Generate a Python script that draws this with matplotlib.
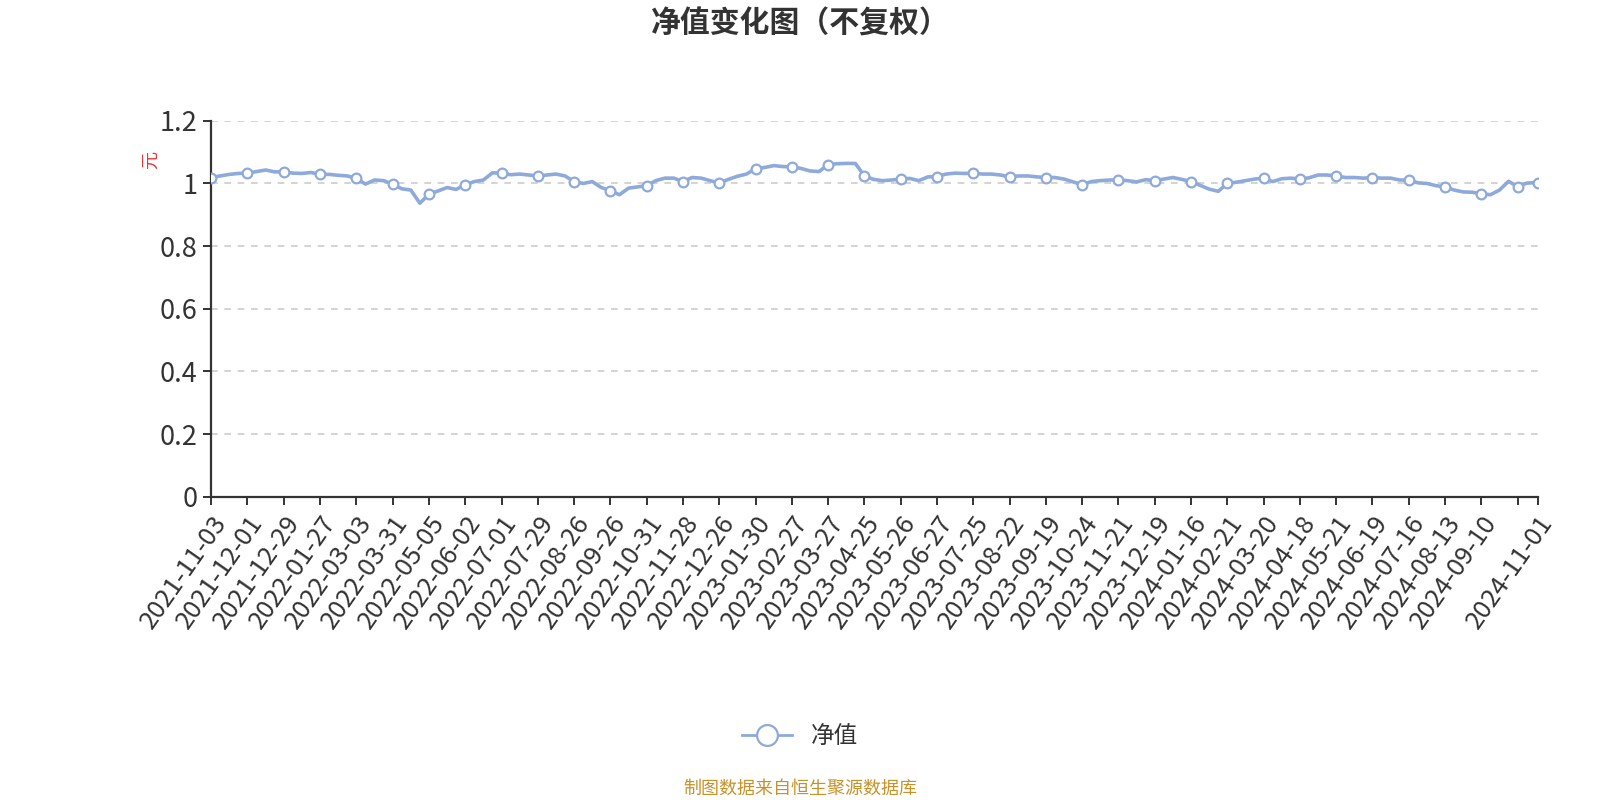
import matplotlib
matplotlib.use("Agg")
import matplotlib.pyplot as plt
from matplotlib.lines import Line2D
from matplotlib.ticker import FuncFormatter

plt.rcParams['font.family'] = ['Noto Sans CJK SC', 'DejaVu Sans']

# 净值 (每5个交易日读一次, 最后一天单独)
last_day = 731
day_idx = list(range(0, 731, 5)) + [last_day]
nav = [
    1.019, 1.024, 1.029, 1.032, 1.033, 1.038, 1.043, 1.037, 1.037, 1.033,
    1.032, 1.035, 1.029, 1.029, 1.026, 1.024, 1.016, 0.998, 1.011, 1.009,
    0.998, 0.983, 0.979, 0.937, 0.966, 0.976, 0.987, 0.981, 0.996, 1.006,
    1.011, 1.034, 1.033, 1.028, 1.030, 1.027, 1.024, 1.027, 1.030, 1.024,
    1.006, 1.000, 1.006, 0.987, 0.977, 0.964, 0.985, 0.989, 0.993, 1.009,
    1.017, 1.017, 1.006, 1.019, 1.017, 1.009, 1.001, 1.013, 1.023, 1.030,
    1.047, 1.051, 1.057, 1.054, 1.053, 1.048, 1.040, 1.038, 1.060, 1.063,
    1.064, 1.064, 1.024, 1.013, 1.009, 1.011, 1.014, 1.016, 1.009, 1.021,
    1.022, 1.030, 1.033, 1.032, 1.033, 1.030, 1.030, 1.027, 1.021, 1.024,
    1.024, 1.021, 1.019, 1.019, 1.014, 1.005, 0.996, 1.006, 1.009, 1.011,
    1.011, 1.009, 1.005, 1.012, 1.009, 1.014, 1.019, 1.013, 1.006, 0.994,
    0.982, 0.975, 1.000, 1.004, 1.009, 1.014, 1.017, 1.006, 1.015, 1.017,
    1.014, 1.018, 1.027, 1.027, 1.024, 1.019, 1.019, 1.017, 1.019, 1.017,
    1.017, 1.011, 1.011, 1.002, 1.000, 0.993, 0.989, 0.979, 0.973, 0.972,
    0.967, 0.964, 0.979, 1.007, 0.990, 1.001, 1.003, 1.001,
]

tick_dates = [
    "2021-11-03", "2021-12-01", "2021-12-29", "2022-01-27", "2022-03-03",
    "2022-03-31", "2022-05-05", "2022-06-02", "2022-07-01", "2022-07-29",
    "2022-08-26", "2022-09-26", "2022-10-31", "2022-11-28", "2022-12-26",
    "2023-01-30", "2023-02-27", "2023-03-27", "2023-04-25", "2023-05-26",
    "2023-06-27", "2023-07-25", "2023-08-22", "2023-09-19", "2023-10-24",
    "2023-11-21", "2023-12-19", "2024-01-16", "2024-02-21", "2024-03-20",
    "2024-04-18", "2024-05-21", "2024-06-19", "2024-07-16", "2024-08-13",
    "2024-09-10",
]
last_date = "2024-11-01"

line_color = "#8eaadb"
text_color = "#333333"

fig = plt.figure(figsize=(16, 8), dpi=100)
ax = fig.add_axes([0.132, 0.379, 0.829, 0.470])

marks = [k for k, d in enumerate(day_idx) if d % 20 == 0 or d == last_day]
ax.plot(day_idx, nav, color=line_color, lw=2.6, marker='o', markevery=marks,
        markersize=7, markerfacecolor='white', markeredgecolor=line_color,
        markeredgewidth=1.6, solid_joinstyle='round', zorder=3)

ax.set_xlim(0, last_day)
ax.set_ylim(0, 1.2)
ax.set_yticks([0, 0.2, 0.4, 0.6, 0.8, 1.0, 1.2])
ax.yaxis.set_major_formatter(FuncFormatter(lambda v, p: "%g" % round(v, 2)))

tick_pos = list(range(0, 20 * len(tick_dates) + 1, 20)) + [last_day]
tick_lab = tick_dates + [""] + [last_date]
ax.set_xticks(tick_pos)
ax.set_xticklabels(tick_lab, rotation=55, ha='right', va='top',
                   rotation_mode='anchor')

ax.grid(axis='y', linestyle=(0, (4, 4)), color='#cccccc', lw=1.2)
ax.set_axisbelow(True)
for s in ['top', 'right']:
    ax.spines[s].set_visible(False)
for s in ['left', 'bottom']:
    ax.spines[s].set_color(text_color)
    ax.spines[s].set_linewidth(1.6)
ax.tick_params(axis='x', colors=text_color, labelsize=18.5, length=6,
               width=1.4, pad=4)
ax.tick_params(axis='y', colors=text_color, labelsize=19.5, length=6,
               width=1.4, pad=4)

fig.text(0.094, 0.80, "元", color="#ee3333", fontsize=13, rotation=90,
         ha='center', va='center')

fig.suptitle("净值变化图（不复权）", x=0.5, y=0.97, fontsize=21.5,
             fontweight='bold', color=text_color, va='center')

handle = Line2D([], [], color=line_color, lw=2, marker='o', markersize=15,
                markerfacecolor='white', markeredgecolor=line_color,
                markeredgewidth=1.6)
fig.legend([handle], ["净值"], loc='center', bbox_to_anchor=(0.5, 0.079),
           frameon=False, fontsize=17, handlelength=2.1, labelcolor=text_color)

fig.text(0.5, 0.014, "制图数据来自恒生聚源数据库", color="#c8922a",
         fontsize=13, ha='center', va='center')

fig.savefig("out.png", dpi=100)
